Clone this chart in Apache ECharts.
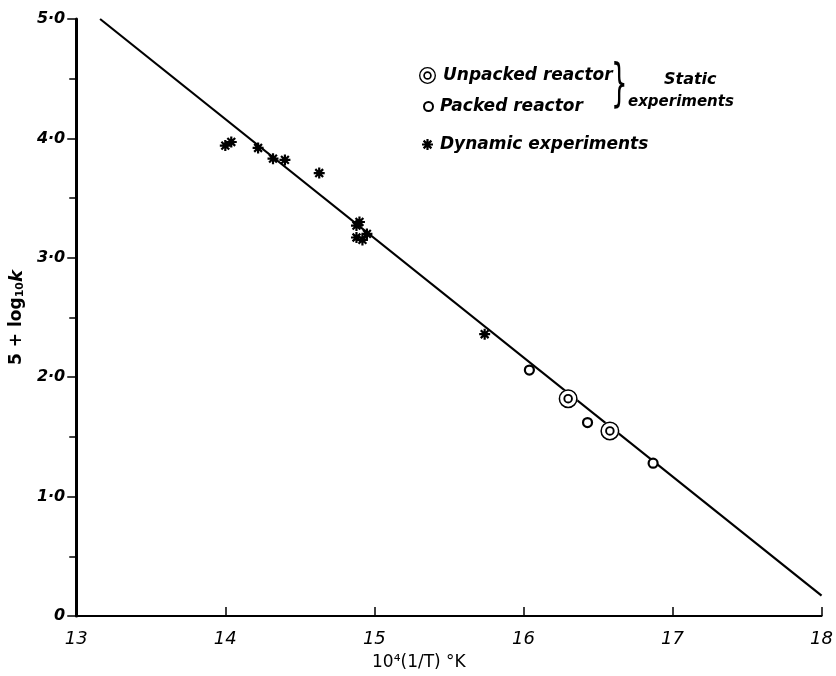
<!DOCTYPE html>
<html>
<head>
<meta charset="utf-8">
<script src="https://cdn.jsdelivr.net/npm/echarts@6/dist/echarts.min.js"></script>
<style>
html,body{margin:0;padding:0;background:#fff;}
#c{width:836px;height:676px;}
</style>
</head>
<body>
<div id="c"></div>
<script>
// ---- data ----
var xTicks = [13, 14, 15, 16, 17, 18];
var yTicks = [0, 1, 2, 3, 4, 5];
var dynamicX = [14.00, 14.04, 14.22, 14.32, 14.40, 14.63, 14.90, 14.88, 14.95, 14.88, 14.92, 15.74];
var dynamicY = [3.94, 3.97, 3.92, 3.83, 3.82, 3.71, 3.30, 3.27, 3.20, 3.17, 3.15, 2.36];
var packedX = [16.04, 16.43, 16.87];
var packedY = [2.06, 1.62, 1.28];
var unpackedX = [16.30, 16.58];
var unpackedY = [1.82, 1.55];
var fitX = [13.16, 18.0];
var fitY = [5.0, 0.17];
var seriesNames = ['Unpacked reactor', 'Packed reactor', 'Dynamic experiments'];

function pairs(xs, ys) { return xs.map(function (x, i) { return [x, ys[i]]; }); }

var FONT = 'DejaVu Sans';
var asterisk = 'path://M0,4L10,4L10,6L0,6Z M4,0L6,0L6,10L4,10Z M2.17,0.75L9.25,7.83L7.83,9.25L0.75,2.17Z M7.83,0.75L9.25,2.17L2.17,9.25L0.75,7.83Z';
var doubleRing = 'path://M10,0A10,10 0 1,1 10,20A10,10 0 1,1 10,0Z M10,1.6A8.4,8.4 0 1,0 10,18.4A8.4,8.4 0 1,0 10,1.6Z M10,5A5,5 0 1,1 10,15A5,5 0 1,1 10,5Z M10,7A3,3 0 1,0 10,13A3,3 0 1,0 10,7Z';
var legendText = {color: '#000', fontFamily: FONT, fontStyle: 'italic', fontWeight: 'bold', fontSize: 17, padding: [0, 0, 0, 2]};

var chart = echarts.init(document.getElementById('c'), null, {renderer: 'canvas'});
chart.setOption({
  backgroundColor: '#fff',
  animation: false,
  grid: {left: 66, right: 12, top: 19, bottom: 56},
  xAxis: {
    type: 'value', min: xTicks[0], max: xTicks[xTicks.length - 1], interval: 1,
    axisLine: {show: true, onZero: false, lineStyle: {color: '#000', width: 2}},
    axisTick: {show: true, inside: true, length: 9, lineStyle: {color: '#000', width: 1.5}},
    splitLine: {show: false},
    axisLabel: {color: '#000', fontFamily: FONT, fontStyle: 'italic', fontSize: 18, margin: 14},
    name: '10\u2074(1/T) \u00b0K', nameLocation: 'middle', nameGap: 38,
    nameTextStyle: {color: '#000', fontFamily: FONT, fontSize: 17, padding: [0, 60, 0, 0]}
  },
  yAxis: {
    type: 'value', min: yTicks[0], max: yTicks[yTicks.length - 1], interval: 1,
    axisLine: {show: true, onZero: false, lineStyle: {color: '#000', width: 3}},
    axisTick: {show: true, length: 9, lineStyle: {color: '#000', width: 1.5}},
    minorTick: {show: true, splitNumber: 2, length: 7, lineStyle: {color: '#000', width: 1.5}},
    splitLine: {show: false},
    axisLabel: {
      color: '#000', fontFamily: FONT, fontStyle: 'italic', fontWeight: 'bold', fontSize: 16, margin: 11,
      formatter: function (v) { return v === 0 ? '0' : v.toFixed(1).replace('.', '\u00b7'); }
    },
    name: '{n|5 + log}{s|10}{k|k}', nameLocation: 'middle', nameGap: 44, nameRotate: 90,
    nameTextStyle: {
      color: '#000',
      rich: {
        n: {fontFamily: FONT, fontSize: 17, fontWeight: 'bold', color: '#000'},
        s: {fontFamily: FONT, fontSize: 11, fontWeight: 'bold', color: '#000', padding: [6, 0, 0, 0]},
        k: {fontFamily: FONT, fontSize: 18, fontWeight: 'bold', fontStyle: 'italic', color: '#000'}
      }
    }
  },
  legend: [{
    data: [seriesNames[0]],
    left: 414, top: 62, itemWidth: 17, itemHeight: 17, textStyle: legendText
  }, {
    data: [seriesNames[1]],
    left: 418, top: 93, itemWidth: 9, itemHeight: 9, itemGap: 10, textStyle: legendText
  }, {
    data: [seriesNames[2]],
    left: 417, top: 131, itemWidth: 11, itemHeight: 11, textStyle: legendText
  }],
  graphic: [
    {type: 'text', left: 611, top: 60, style: {text: '}', font: '52px "DejaVu Sans"', fill: '#000'}, scaleX: 0.5},
    {type: 'text', left: 664, top: 72, style: {text: 'Static', font: 'italic bold 16px "DejaVu Sans"', fill: '#000'}},
    {type: 'text', left: 628, top: 95, style: {text: 'experiments', font: 'italic bold 15px "DejaVu Sans"', fill: '#000'}}
  ],
  series: [
    {
      name: 'fit', type: 'line', data: pairs(fitX, fitY), showSymbol: false, silent: true,
      lineStyle: {color: '#000', width: 2.2}, z: 1
    },
    {
      name: 'bg', type: 'scatter', data: pairs(unpackedX, unpackedY), symbol: 'circle', symbolSize: 19,
      itemStyle: {color: '#fff', opacity: 1}, z: 2, silent: true
    },
    {
      name: seriesNames[0], type: 'scatter', data: pairs(unpackedX, unpackedY), symbol: doubleRing, symbolSize: 19,
      itemStyle: {color: '#000', opacity: 1}, z: 3
    },
    {
      name: seriesNames[1], type: 'scatter', data: pairs(packedX, packedY), symbol: 'circle', symbolSize: 9,
      itemStyle: {color: '#fff', borderColor: '#000', borderWidth: 2.2, opacity: 1}, z: 3
    },
    {
      name: seriesNames[2], type: 'scatter', data: pairs(dynamicX, dynamicY), symbol: asterisk, symbolSize: 11,
      itemStyle: {color: '#000', opacity: 1}, z: 3
    }
  ]
});
</script>
</body>
</html>
